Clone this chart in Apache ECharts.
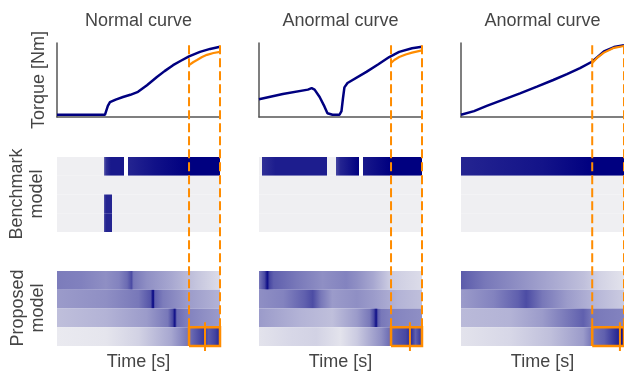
<!DOCTYPE html>
<html>
<head>
<meta charset="utf-8">
<script src="https://cdn.jsdelivr.net/npm/echarts@6/dist/echarts.min.js"></script>
<style>
  html, body { margin: 0; padding: 0; background: #fff; }
  #chart { width: 624px; height: 371px; }
</style>
</head>
<body>
<div id="chart"></div>
<script>
const panelTitles = ['Normal curve', 'Anormal curve', 'Anormal curve'];

// torque curves, [time, torque], both normalised to 0..1
const torqueNormal = [[0,0.03],[0.294,0.03],[0.304,0.05],[0.312,0.15],[0.325,0.2],[0.36,0.235],[0.405,0.27],[0.45,0.3],[0.497,0.34],[0.552,0.43],[0.613,0.54],[0.66,0.62],[0.712,0.7],[0.76,0.76],[0.81,0.82],[0.877,0.88],[0.939,0.92],[1,0.95]];
const torqueAnormal1 = [[0,0.24],[0.146,0.31],[0.3,0.37],[0.323,0.39],[0.341,0.37],[0.372,0.27],[0.402,0.14],[0.42,0.05],[0.451,0.03],[0.494,0.03],[0.506,0.08],[0.515,0.25],[0.524,0.4],[0.543,0.46],[0.659,0.61],[0.73,0.71],[0.799,0.81],[0.86,0.88],[0.939,0.93],[1,0.95]];
const torqueAnormal2 = [[0,0.03],[0.08,0.08],[0.158,0.15],[0.26,0.235],[0.362,0.32],[0.466,0.41],[0.566,0.5],[0.65,0.58],[0.73,0.66],[0.806,0.75],[0.877,0.885],[0.939,0.945],[1,0.97]];

// reconstructed (orange) curve inside the window
const recNormal = [[0.81,0.7],[0.835,0.74],[0.859,0.77],[0.89,0.81],[0.92,0.84],[0.96,0.865],[1,0.88]];
const recAnormal1 = [[0.81,0.73],[0.83,0.77],[0.86,0.81],[0.9,0.845],[0.939,0.87],[1,0.9]];
const recAnormal2 = [[0.805,0.73],[0.84,0.81],[0.877,0.87],[0.939,0.935],[1,0.96]];

const windowStart = [0.81, 0.81, 0.805];
const markerTime = [0.908, 0.926, 0.975];

// benchmark model rows: [time, intensity] stops (-1 = blank)
const benchNormal = [
  [[0,0],[0.288,0],[0.288,0.55],[0.3,0.8],[0.33,0.9],[0.413,0.9],[0.413,-1],[0.437,-1],[0.437,0.85],[0.6,0.93],[0.8,1],[1,1]],
  [[0,0],[1,0]],
  [[0,0],[0.288,0],[0.288,0.65],[0.3,0.85],[0.336,0.85],[0.336,0],[1,0]],
  [[0,0],[0.288,0],[0.288,0.65],[0.3,0.85],[0.336,0.85],[0.336,0],[1,0]]
];
const benchAnormal1 = [
  [[0,0],[0.016,0],[0.016,0.8],[0.1,0.88],[0.419,0.88],[0.419,0],[0.47,0],[0.47,0.7],[0.5,0.85],[0.616,1],[0.616,-1],[0.64,-1],[0.64,0.9],[0.8,1],[1,1]],
  [[0,0],[1,0]],
  [[0,0],[1,0]],
  [[0,0],[1,0]]
];
const benchAnormal2 = [
  [[0,0.85],[0.5,0.92],[0.8,1],[1,1]],
  [[0,0],[1,0]],
  [[0,0],[1,0]],
  [[0,0],[1,0]]
];

// proposed model rows
const propNormal = [
  [[0,0.48],[0.15,0.46],[0.3,0.4],[0.38,0.45],[0.43,0.55],[0.457,0.68],[0.47,0.5],[0.55,0.4],[0.7,0.3],[0.85,0.18],[1,0.08]],
  [[0,0.35],[0.3,0.4],[0.5,0.5],[0.575,0.65],[0.59,1],[0.6,0.6],[0.65,0.48],[0.8,0.35],[1,0.25]],
  [[0,0.2],[0.3,0.25],[0.55,0.35],[0.68,0.5],[0.71,0.7],[0.723,0.95],[0.735,0.55],[0.81,0.45],[1,0.35]],
  [[0,0.02],[0.3,0.04],[0.5,0.12],[0.7,0.3],[0.8,0.5],[0.86,0.65],[0.9,0.75],[0.93,0.62],[0.97,0.72],[1,0.85]]
];
const propAnormal1 = [
  [[0,0.5],[0.035,0.7],[0.051,0.95],[0.065,0.7],[0.09,0.6],[0.23,0.5],[0.39,0.4],[0.535,0.45],[0.6,0.4],[0.7,0.3],[0.8,0.15],[1,0.08]],
  [[0,0.4],[0.15,0.45],[0.28,0.6],[0.33,0.68],[0.38,0.5],[0.45,0.35],[0.6,0.4],[0.7,0.35],[0.85,0.25],[1,0.2]],
  [[0,0.35],[0.25,0.25],[0.45,0.2],[0.6,0.35],[0.68,0.5],[0.705,0.7],[0.719,0.95],[0.73,0.6],[0.75,0.5],[0.81,0.45],[1,0.4]],
  [[0,0.05],[0.2,0.1],[0.35,0.12],[0.5,0.05],[0.6,0.15],[0.75,0.4],[0.82,0.6],[0.9,0.7],[0.93,0.82],[0.96,0.6],[1,0.8]]
];
const propAnormal2 = [
  [[0,0.62],[0.15,0.5],[0.35,0.4],[0.55,0.3],[0.75,0.2],[0.85,0.12],[1,0.05]],
  [[0,0.35],[0.2,0.45],[0.35,0.6],[0.4,0.68],[0.5,0.5],[0.65,0.35],[0.8,0.25],[1,0.15]],
  [[0,0.22],[0.3,0.25],[0.5,0.35],[0.65,0.5],[0.75,0.6],[0.8,0.5],[1,0.45]],
  [[0,0.05],[0.3,0.1],[0.55,0.2],[0.75,0.35],[0.8,0.5],[0.88,0.6],[0.95,0.8],[1,0.95]]
];

const torque = [torqueNormal, torqueAnormal1, torqueAnormal2];
const rec = [recNormal, recAnormal1, recAnormal2];
const bench = [benchNormal, benchAnormal1, benchAnormal2];
const prop = [propNormal, propAnormal1, propAnormal2];

const NAVY = '#000080';
const ORANGE = '#ff8c00';
const TEXT = '#454545';
const FONT = '"Liberation Sans", Arial, sans-serif';

const lefts = [57, 259, 461];
const PW = 163;
const TOP1 = 43, H1 = 74;
const TOP2 = 157, TOP3 = 271, HH = 75;
const rowH = HH / 4;
const propBottom = TOP3 + HH;

function shade(v) {
  if (v < 0) return '#ffffff';
  const a = [239, 239, 242], b = [0, 0, 128];
  return 'rgb(' + a.map((c, k) => Math.round(c + (b[k] - c) * v)).join(',') + ')';
}
function grad(stops) {
  return new echarts.graphic.LinearGradient(0, 0, 1, 0,
    stops.map(s => ({ offset: s[0], color: shade(s[1]) })));
}

const grids = [], xAxes = [], yAxes = [], series = [];
const hidden = { show: false };

function valAxis(g, min, max, show) {
  return {
    type: 'value', gridIndex: g, min: min, max: max,
    axisLine: { show: show, onZero: false, lineStyle: { color: '#555', width: 1.5 } },
    axisTick: hidden, axisLabel: hidden, splitLine: hidden
  };
}

function heat(g, rows) {
  series.push({
    type: 'bar', xAxisIndex: g, yAxisIndex: g,
    barWidth: '100%', barCategoryGap: '0%', silent: true,
    data: rows.map(r => ({ value: 1, itemStyle: { color: grad(r) } }))
  });
}

for (let i = 0; i < 3; i++) {
  // torque chart
  let g = grids.length;
  grids.push({ left: lefts[i], top: TOP1, width: PW, height: H1 });
  xAxes.push(valAxis(g, 0, 1, true));
  yAxes.push(valAxis(g, 0, 1, true));
  series.push({
    type: 'line', xAxisIndex: g, yAxisIndex: g, data: torque[i],
    symbol: 'none', silent: true, lineStyle: { color: NAVY, width: 2.5 }
  });
  series.push({
    type: 'line', xAxisIndex: g, yAxisIndex: g, data: rec[i], z: 5,
    symbol: 'none', silent: true, lineStyle: { color: ORANGE, width: 2.2 }
  });

  // benchmark + proposed strips
  [[TOP2, bench[i]], [TOP3, prop[i]]].forEach(([top, rows]) => {
    const h = grids.length;
    grids.push({ left: lefts[i], top: top, width: PW, height: HH });
    xAxes.push({ type: 'value', gridIndex: h, min: 0, max: 1, show: false });
    yAxes.push({ type: 'category', gridIndex: h, data: ['0', '1', '2', '3'], inverse: true, show: false });
    heat(h, rows);
  });
}

// orange window overlay, y in pixels above the bottom of the proposed strip
for (let i = 0; i < 3; i++) {
  const g = grids.length;
  grids.push({ left: lefts[i], top: TOP1, width: PW, height: propBottom - TOP1 + 10 });
  xAxes.push({ type: 'value', gridIndex: g, min: 0, max: 1, show: false });
  yAxes.push({ type: 'value', gridIndex: g, min: -10, max: propBottom - TOP1, show: false });
  const ws = windowStart[i], top = propBottom - TOP1 - 2;
  const base = { type: 'line', xAxisIndex: g, yAxisIndex: g, symbol: 'none', silent: true, clip: false, z: 10 };
  series.push(Object.assign({}, base, { data: [[ws, rowH], [ws, top]], lineStyle: { color: ORANGE, width: 2, type: [9, 4] } }));
  series.push(Object.assign({}, base, { data: [[1, rowH], [1, top]], lineStyle: { color: ORANGE, width: 2, type: [9, 4] } }));
  series.push(Object.assign({}, base, { data: [[ws, 0], [1, 0], [1, rowH], [ws, rowH], [ws, 0]], lineStyle: { color: ORANGE, width: 2.5, join: 'miter' } }));
  series.push(Object.assign({}, base, { data: [[markerTime[i], -5], [markerTime[i], rowH + 5]], lineStyle: { color: ORANGE, width: 2 } }));
}

function label(text, x, y, rot) {
  return {
    type: 'text', x: x, y: y, rotation: rot || 0, silent: true,
    style: {
      text: text, fill: TEXT, fontSize: 18, fontFamily: FONT, lineHeight: 20,
      align: 'center', verticalAlign: 'middle', textAlign: 'center', textVerticalAlign: 'middle'
    }
  };
}
const graphics = [];
for (let i = 0; i < 3; i++) {
  graphics.push(label(panelTitles[i], lefts[i] + PW / 2, 21));
  graphics.push(label('Time [s]', lefts[i] + PW / 2, 362));
}
graphics.push(label('Torque [Nm]', 39, 80, Math.PI / 2));
graphics.push(label('Benchmark\nmodel', 27, 194, Math.PI / 2));
graphics.push(label('Proposed\nmodel', 28, 308, Math.PI / 2));

const chart = echarts.init(document.getElementById('chart'), null, { renderer: 'canvas' });
chart.setOption({
  animation: false,
  backgroundColor: '#fff',
  grid: grids,
  xAxis: xAxes,
  yAxis: yAxes,
  series: series,
  graphic: graphics
});
</script>
</body>
</html>
